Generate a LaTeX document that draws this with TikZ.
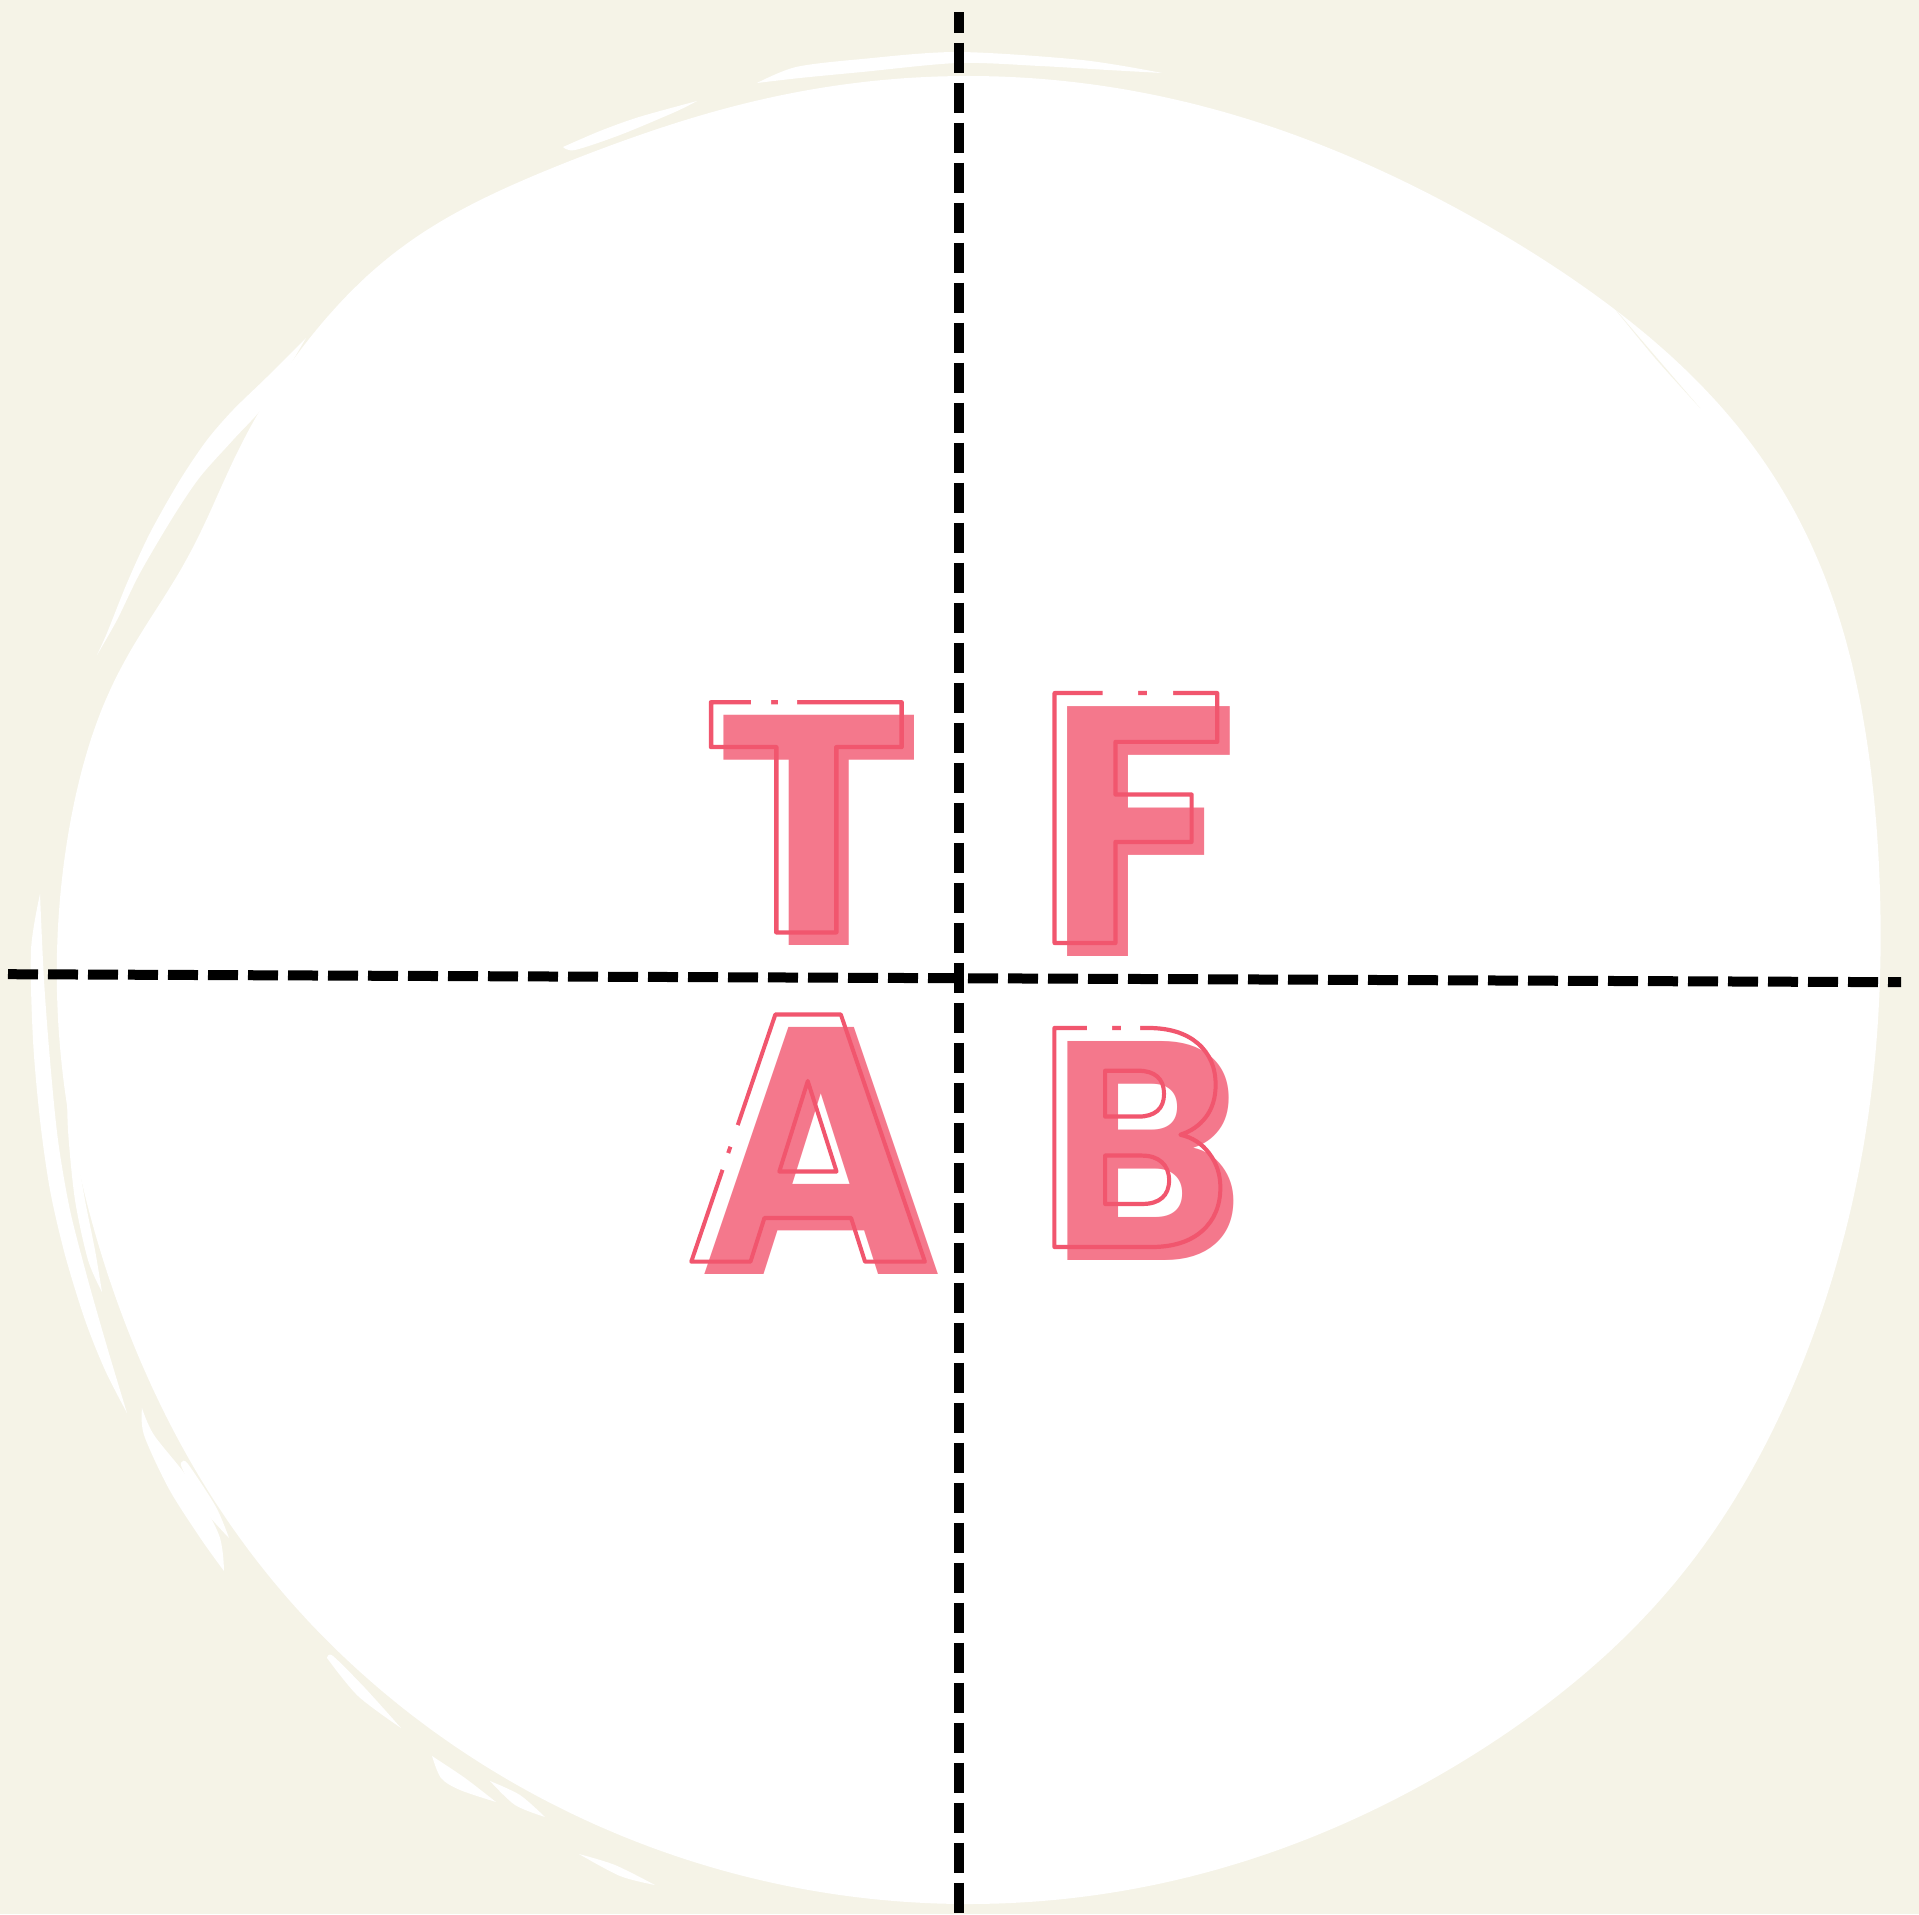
\documentclass[tikz,border=0pt]{standalone}
\usepackage{fontspec}
\usepackage{tikz}
\usetikzlibrary{calc}
\IfFontExistsTF{Poppins Bold}{\newfontfamily\letterfont{Poppins Bold}}{\newfontfamily\letterfont{Poppins}[UprightFont={* Bold}]}
\definecolor{paper}{HTML}{F5F3E7}
\definecolor{letterpink}{HTML}{F4788C}
\definecolor{linepink}{HTML}{F1566E}
% glyph drawn as outline only (text render mode 1)
\newcommand{\strokeonly}[1]{\special{pdf:literal direct 1 Tr 4.2 w 1 j}#1\special{pdf:literal direct 0 Tr}}
% a brush stroke: one smooth edge out, one smooth edge back
\newcommand{\brush}[3][white]{%
  \fill[#1] plot[smooth] coordinates {#2} -- plot[smooth] coordinates {#3} -- cycle;}
% radius of the blob at angle #1
\newcommand{\blobr}[1]{(914+42*exp(-((#1+32)/20)^2)+20*exp(-((#1-232)/11)^2)
  -22*exp(-((#1-209)/8)^2)-8*exp(-((#1-162)/18)^2)
  -6*exp(-((#1-5)/22)^2)+9*exp(-((#1-40)/15)^2))}

\begin{document}
\begin{tikzpicture}[x=1pt,y=-1pt,
    crossdash/.style={line width=10pt,dash pattern=on 30pt off 10pt},
    glyph/.style={inner sep=0pt,outer sep=0pt,anchor=base west,
      font=\letterfont\fontsize{#1}{#1}\selectfont},
    gap/.style={white,line width=12pt}]
    \useasboundingbox (0,0) rectangle (1919,1914);
    \fill[paper] (0,0) rectangle (1919,1914);
    % main white blob: a circle with a few soft bumps
    \fill[white] plot[smooth cycle,domain=-90:268,samples=180,variable=\t]
      ({968+\blobr{\t}*cos(\t)},{990+\blobr{\t}*sin(\t)});
    % loose brush strokes round the blob
    \brush{(757,83) (796,67) (862,59) (958,52) (1082,60) (1162,73)}
          {(1162,73) (1108,70) (1040,66) (958,63) (862,72) (800,78) (757,83)}
    \brush{(563,147) (600,131) (639,117) (697,101)}
          {(697,101) (675,112) (620,135) (575,150) (563,147)}
    \brush{(306,338) (267,377) (233,410) (207,440) (180,480) (150,533) (127,583) (107,633) (97,655)}
          {(97,655) (117,620) (140,573) (173,517) (200,477) (233,440) (267,402) (306,338)}
    \brush{(40,894) (31,950) (33,1040) (40,1120) (50,1190) (65,1255) (85,1320) (105,1370) (127,1413)}
          {(127,1413) (108,1350) (88,1280) (70,1210) (58,1140) (50,1060) (44,980) (40,894)}
    \brush{(67,1076) (68,1130) (75,1200) (88,1260) (102,1292)}
          {(102,1292) (95,1250) (85,1200) (75,1140) (67,1076)}
    \brush{(142,1408) (144,1435) (169,1489) (201,1539) (224,1571)}
          {(224,1571) (219,1535) (190,1481) (154,1435) (142,1408)}
    \brush{(182,1462) (182,1468) (202,1507) (229,1538)}
          {(229,1538) (216,1507) (188,1464) (182,1462)}
    \brush{(327,1658) (358,1696) (401,1728)}
          {(401,1728) (365,1688) (333,1656) (327,1658)}
    \brush{(432,1756) (465,1778) (496,1802)}
          {(496,1802) (460,1790) (441,1778) (432,1756)}
    \brush{(490,1781) (520,1795) (545,1817)}
          {(545,1817) (515,1805) (490,1781)}
    \brush{(579,1854) (615,1865) (655,1885)}
          {(655,1885) (620,1876) (579,1854)}
    \brush[paper]{(1610,303) (1650,350) (1700,408)}
          {(1700,408) (1655,358) (1610,303)}
    % the two dashed axes
    \coordinate (vtop) at (958.7,12);
    \coordinate (vbot) at (958.7,1914);
    \coordinate (hleft) at (8,974.2);
    \coordinate (hright) at (1901,982.2);
    \draw[crossdash,dash phase=9.3pt] (vtop) -- (vbot);
    \draw[crossdash] (hleft) -- (hright);
    % letters: filled copy, then outlined copy shifted up-left
    \foreach \ch/\px/\py/\sz/\sx in {T/715.6/945.4/328/1.07,F/1045.5/956/356/1.0,
        A/699/1274.6/352/0.94,B/1049/1260/312/0.95}{
      \node[glyph=\sz,xscale=\sx,text=letterpink] (fill\ch) at (\px,\py) {\ch};
      \node[glyph=\sz,xscale=\sx,text=linepink] (line\ch) at (\px-13,\py-13) {\strokeonly{\ch}};
    }
    % small breaks in the outlines
    \fill[white] (751,695) rectangle (771,707) (778,695) rectangle (797,707);
    \fill[white] (1102.5,687) rectangle (1138,699) (1147,687) rectangle (1173,699);
    \fill[white] (1087,1022) rectangle (1112,1034) (1121,1022) rectangle (1140,1034);
    \draw[gap] (736.4,1124.7) -- (728.6,1145.9);
    \draw[gap] (726.2,1152.4) -- (720.1,1168.8);
  \end{tikzpicture}
\end{document}
